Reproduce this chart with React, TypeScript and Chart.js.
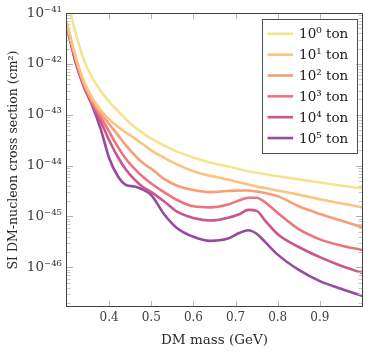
import React, { useEffect, useRef } from 'react';
import { Chart, registerables } from 'chart.js';

Chart.register(...registerables);

// DM mass (GeV) sample points
const masses = [0.30, 0.32, 0.34, 0.36, 0.38, 0.40, 0.42, 0.44, 0.46, 0.48, 0.50, 0.53, 0.56, 0.60, 0.64, 0.68, 0.71, 0.73, 0.75, 0.77, 0.80, 0.85, 0.90, 0.95, 1.00];

// log10 of SI DM-nucleon cross section (cm^2)
const exp1e0 = [-40.7, -41.38, -41.92, -42.27, -42.53, -42.74, -42.92, -43.09, -43.24, -43.36, -43.47, -43.6, -43.72, -43.84, -43.94, -44.01, -44.07, -44.11, -44.14, -44.17, -44.21, -44.27, -44.33, -44.39, -44.45];
const exp1e1 = [-41.2, -41.84, -42.34, -42.67, -42.91, -43.09, -43.23, -43.35, -43.46, -43.58, -43.7, -43.84, -43.97, -44.11, -44.2, -44.27, -44.33, -44.37, -44.41, -44.44, -44.49, -44.57, -44.66, -44.74, -44.82];
const exp1e2 = [-41.22, -41.87, -42.38, -42.72, -42.97, -43.18, -43.39, -43.6, -43.79, -43.95, -44.06, -44.26, -44.39, -44.48, -44.52, -44.5, -44.49, -44.49, -44.51, -44.54, -44.6, -44.8, -44.95, -45.08, -45.21];
const exp1e3 = [-41.24, -41.9, -42.41, -42.76, -43.04, -43.33, -43.62, -43.87, -44.06, -44.22, -44.35, -44.52, -44.67, -44.8, -44.82, -44.77, -44.68, -44.63, -44.63, -44.72, -44.93, -45.25, -45.45, -45.57, -45.66];
const exp1e4 = [-41.26, -41.92, -42.43, -42.8, -43.13, -43.5, -43.82, -44.08, -44.27, -44.42, -44.52, -44.7, -44.9, -45.03, -45.08, -45.03, -44.95, -44.87, -44.89, -45.08, -45.35, -45.6, -45.8, -45.97, -46.11];
const exp1e5 = [-41.28, -41.96, -42.45, -42.82, -43.28, -43.85, -44.2, -44.38, -44.41, -44.47, -44.58, -44.95, -45.22, -45.4, -45.48, -45.44, -45.32, -45.27, -45.34, -45.5, -45.75, -46.05, -46.27, -46.42, -46.56];

const seriesExps = [exp1e0, exp1e1, exp1e2, exp1e3, exp1e4, exp1e5];
const seriesLabels = ['10⁰ ton', '10¹ ton', '10² ton', '10³ ton', '10⁴ ton', '10⁵ ton'];
const seriesColors = [
  'rgb(242,229,146)',
  'rgb(252,195,128)',
  'rgb(248,157,117)',
  'rgb(234,117,125)',
  'rgb(203,85,140)',
  'rgb(150,74,160)',
];

const xTicks = [0.4, 0.5, 0.6, 0.7, 0.8, 0.9];
const yDecades = [-46, -45, -44, -43, -42, -41];
const xMin = 0.3;
const xMax = 1.0;
const yMinExp = -46.78;
const yMaxExp = -41;

const FONT = "'DejaVu Serif', 'Liberation Serif', serif";

const supMap: Record<string, string> = {
  '-': '⁻', '0': '⁰', '1': '¹', '2': '²', '3': '³', '4': '⁴',
  '5': '⁵', '6': '⁶', '7': '⁷', '8': '⁸', '9': '⁹',
};
const sup = (n: number) => String(n).split('').map((c) => supMap[c] ?? c).join('');

const framePlugin = {
  id: 'frameTicks',
  afterDatasetsDraw(chart: any) {
    const { ctx, chartArea: a, scales } = chart;
    const x = scales.x;
    const y = scales.y;
    ctx.save();
    const seg = (x1: number, y1: number, x2: number, y2: number) => {
      ctx.beginPath();
      ctx.moveTo(x1, y1);
      ctx.lineTo(x2, y2);
      ctx.stroke();
    };
    ctx.strokeStyle = '#b4b4b4';
    ctx.lineWidth = 1;
    xTicks.forEach((v) => {
      const px = Math.round(x.getPixelForValue(v)) + 0.5;
      seg(px, a.bottom, px, a.bottom - 6);
      seg(px, a.top, px, a.top + 6);
    });
    yDecades.forEach((e) => {
      const py = Math.round(y.getPixelForValue(Math.pow(10, e))) + 0.5;
      if (py <= a.top + 1 || py >= a.bottom - 1) return;
      seg(a.left, py, a.left + 6, py);
      seg(a.right, py, a.right - 6, py);
    });
    ctx.strokeStyle = '#c8c8c8';
    for (let e = -47; e <= -42; e++) {
      for (let k = 2; k <= 9; k++) {
        const val = k * Math.pow(10, e);
        const py = y.getPixelForValue(val);
        if (py <= a.top + 1 || py >= a.bottom - 1) continue;
        const pr = Math.round(py) + 0.5;
        seg(a.left, pr, a.left + 3.5, pr);
        seg(a.right, pr, a.right - 3.5, pr);
      }
    }
    ctx.strokeStyle = '#404040';
    ctx.lineWidth = 1;
    ctx.strokeRect(Math.round(a.left) - 0.5, Math.round(a.top) + 0.5, Math.round(a.width) + 1, Math.round(a.height) - 1);
    ctx.restore();
  },
};

const legendPlugin = {
  id: 'insideLegend',
  afterDraw(chart: any) {
    const { ctx, chartArea: a } = chart;
    const w = 94.5;
    const h = 133.5;
    const right = a.right - 6;
    const left = right - w;
    const top = a.top + 5.7;
    ctx.save();
    ctx.fillStyle = '#ffffff';
    ctx.fillRect(left, top, w, h);
    ctx.strokeStyle = '#505050';
    ctx.lineWidth = 1;
    ctx.strokeRect(Math.round(left) + 0.5, Math.round(top) + 0.5, Math.round(w), Math.round(h));
    chart.data.datasets.forEach((ds: any, i: number) => {
      const cy = top + 15 + i * 20.85;
      ctx.strokeStyle = ds.borderColor;
      ctx.lineWidth = 2.6;
      ctx.beginPath();
      ctx.moveTo(left + 6, cy);
      ctx.lineTo(left + 31.6, cy);
      ctx.stroke();
      ctx.fillStyle = '#222222';
      ctx.font = `13.5px ${FONT}`;
      ctx.textBaseline = 'middle';
      ctx.textAlign = 'left';
      ctx.fillText(ds.label, left + 37.6, cy + 1);
    });
    ctx.restore();
  },
};

export default function App() {
  const canvasRef = useRef<HTMLCanvasElement | null>(null);

  useEffect(() => {
    if (!canvasRef.current) return;
    const datasets = seriesExps.map((exps, i) => ({
      label: seriesLabels[i],
      data: masses.map((m, j) => ({ x: m, y: Math.pow(10, exps[j]) })),
      borderColor: seriesColors[i],
      backgroundColor: seriesColors[i],
      borderWidth: 2.6,
      pointRadius: 0,
      fill: false,
      cubicInterpolationMode: 'monotone' as const,
      borderCapStyle: 'round' as const,
      borderJoinStyle: 'round' as const,
    }));

    const chart = new Chart(canvasRef.current, {
      type: 'line',
      data: { datasets },
      options: {
        animation: false,
        responsive: false,
        events: [],
        layout: { padding: { left: 0, right: 12, top: 11, bottom: 0 } },
        plugins: {
          legend: { display: false },
          tooltip: { enabled: false },
        },
        scales: {
          x: {
            type: 'linear',
            min: xMin,
            max: xMax,
            afterBuildTicks: (s: any) => {
              s.ticks = xTicks.map((v) => ({ value: v }));
            },
            afterFit: (s: any) => {
              s.height = 45;
            },
            ticks: {
              callback: (v: any) => Number(v).toFixed(1),
              font: { family: FONT, size: 12 },
              color: '#404040',
              padding: 4,
              maxRotation: 0,
              autoSkip: false,
            },
            grid: { display: false, drawTicks: false },
            border: { display: false },
            title: {
              display: true,
              text: 'DM mass (GeV)',
              font: { family: FONT, size: 13.5 },
              color: '#2a2a2a',
              padding: { top: 0, bottom: 3 },
            },
          },
          y: {
            type: 'logarithmic',
            min: Math.pow(10, yMinExp),
            max: Math.pow(10, yMaxExp),
            afterBuildTicks: (s: any) => {
              s.ticks = yDecades.map((e) => ({ value: Math.pow(10, e) }));
            },
            afterFit: (s: any) => {
              s.width = 67;
            },
            ticks: {
              callback: (v: any) => '10' + sup(Math.round(Math.log10(Number(v)))),
              font: { family: FONT, size: 13.5 },
              color: '#404040',
              padding: 5,
              autoSkip: false,
            },
            grid: { display: false, drawTicks: false },
            border: { display: false },
            title: {
              display: true,
              text: 'SI DM-nucleon cross section (cm²)',
              font: { family: FONT, size: 12.5 },
              color: '#2a2a2a',
              padding: { top: 6, bottom: 0 },
            },
          },
        },
      },
      plugins: [framePlugin, legendPlugin],
    });
    return () => chart.destroy();
  }, []);

  return (
    <div style={{ position: 'fixed', left: 0, top: 0, width: 374, height: 352, background: '#fff' }}>
      <canvas ref={canvasRef} width={374} height={352} style={{ width: 374, height: 352, display: 'block' }} />
    </div>
  );
}
